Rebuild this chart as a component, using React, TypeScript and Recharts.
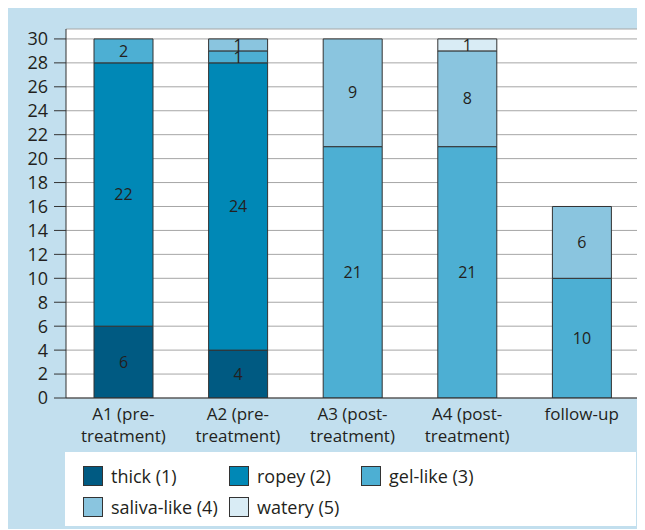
// Stacked bar chart of secretion consistency per assessment (A1–A4, follow-up).
import { Bar, BarChart, CartesianGrid, LabelList, XAxis, YAxis } from 'recharts';

const categories = ['A1 (pre-\ntreatment)', 'A2 (pre-\ntreatment)', 'A3 (post-\ntreatment)', 'A4 (post-\ntreatment)', 'follow-up'];
const thick = [6, 4, 0, 0, 0];
const ropey = [22, 24, 0, 0, 0];
const gelLike = [2, 1, 21, 21, 10];
const salivaLike = [0, 1, 9, 8, 6];
const watery = [0, 0, 0, 1, 0];
const yTicks = [0, 2, 4, 6, 8, 10, 12, 14, 16, 18, 20, 22, 24, 26, 28, 30];

const series = [
  { key: 'thick', name: 'thick (1)', color: '#005a82' },
  { key: 'ropey', name: 'ropey (2)', color: '#0088b6' },
  { key: 'gel', name: 'gel-like (3)', color: '#4dafd3' },
  { key: 'saliva', name: 'saliva-like (4)', color: '#8ac5df' },
  { key: 'watery', name: 'watery (5)', color: '#d9ecf5' },
];

const data = categories.map((name, i) => ({
  name,
  thick: thick[i],
  ropey: ropey[i],
  gel: gelLike[i],
  saliva: salivaLike[i],
  watery: watery[i],
}));

const FONT = '"Open Sans", sans-serif';
const TEXT = '#231f20';

function XTick(props: any) {
  const { x, y, payload } = props;
  const lines = String(payload.value).split('\n');
  return (
    <text x={x} y={y} textAnchor="middle" fill={TEXT} fontSize={17} fontFamily={FONT}>
      {lines.map((l, i) => (
        <tspan key={i} x={x} dy={i === 0 ? 14 : 22}>{l}</tspan>
      ))}
    </text>
  );
}

function LegendItem({ name, color }: { name: string; color: string }) {
  return (
    <div style={{ display: 'flex', alignItems: 'center' }}>
      <span style={{ width: 18, height: 18, background: color, border: '1px solid #333', marginRight: 8 }} />
      <span>{name}</span>
    </div>
  );
}

export default function App() {
  return (
    <div style={{ width: 637, height: 521, background: '#c2dfee', position: 'relative', fontFamily: FONT }}>
      <BarChart
        width={637}
        height={444}
        data={data}
        margin={{ top: 21, right: 6, bottom: 4, left: 0 }}
        barSize={59}
      >
        <CartesianGrid vertical={false} stroke="#a6a6a6" fill="#ffffff" fillOpacity={1} />
        <XAxis
          dataKey="name"
          tickLine={false}
          axisLine={{ stroke: '#333' }}
          height={50}
          interval={0}
          tick={<XTick />}
        />
        <YAxis
          width={58}
          domain={[0, 30.83]}
          ticks={yTicks}
          interval={0}
          allowDataOverflow
          tickSize={12}
          tickMargin={6}
          tickLine={{ stroke: '#333' }}
          axisLine={{ stroke: '#333' }}
          tick={{ fill: TEXT, fontSize: 18, fontFamily: FONT }}
        />
        {series.map((s) => (
          <Bar
            key={s.key}
            dataKey={s.key}
            name={s.name}
            stackId="a"
            fill={s.color}
            stroke="#333"
            strokeWidth={1}
            isAnimationActive={false}
          >
            <LabelList
              dataKey={s.key}
              position="center"
              fill={TEXT}
              fontSize={16}
              fontFamily={FONT}
              formatter={(v: any) => (v ? v : '')}
            />
          </Bar>
        ))}
      </BarChart>
      <div
        style={{
          position: 'absolute',
          left: 57,
          top: 444,
          width: 571,
          height: 74,
          background: '#fff',
          color: TEXT,
          fontSize: 18,
        }}
      >
        <div style={{ position: 'absolute', left: 18, top: 12, display: 'flex' }}>
          <div style={{ width: 146 }}><LegendItem name={series[0].name} color={series[0].color} /></div>
          <div style={{ width: 132 }}><LegendItem name={series[1].name} color={series[1].color} /></div>
          <div><LegendItem name={series[2].name} color={series[2].color} /></div>
        </div>
        <div style={{ position: 'absolute', left: 18, top: 43, display: 'flex' }}>
          <div style={{ width: 146 }}><LegendItem name={series[3].name} color={series[3].color} /></div>
          <div><LegendItem name={series[4].name} color={series[4].color} /></div>
        </div>
      </div>
    </div>
  );
}
